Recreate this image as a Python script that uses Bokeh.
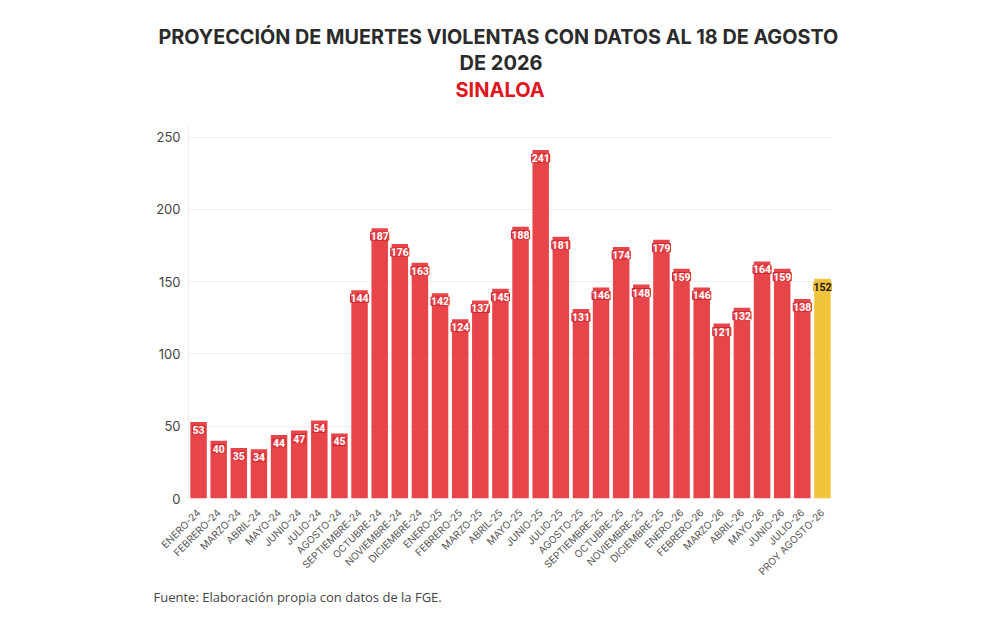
from bokeh.plotting import figure
from bokeh.models import ColumnDataSource, FactorRange, Range1d, LabelSet, SingleIntervalTicker, Title
from bokeh.embed import file_html
from bokeh.resources import INLINE
from bokeh.core.properties import value
import math

months = ["ENERO-24", "FEBRERO-24", "MARZO-24", "ABRIL-24", "MAYO-24", "JUNIO-24", "JULIO-24",
          "AGOSTO-24", "SEPTIEMBRE-24", "OCTUBRE-24", "NOVIEMBRE-24", "DICIEMBRE-24",
          "ENERO-25", "FEBRERO-25", "MARZO-25", "ABRIL-25", "MAYO-25", "JUNIO-25", "JULIO-25",
          "AGOSTO-25", "SEPTIEMBRE-25", "OCTUBRE-25", "NOVIEMBRE-25", "DICIEMBRE-25",
          "ENERO-26", "FEBRERO-26", "MARZO-26", "ABRIL-26", "MAYO-26", "JUNIO-26", "JULIO-26"]
deaths = [53, 40, 35, 34, 44, 47, 54, 45, 144, 187, 176, 163,
          142, 124, 137, 145, 188, 241, 181, 131, 146, 174, 148, 179,
          159, 146, 121, 132, 164, 159, 138]
proj_month = ["PROY AGOSTO-26"]
proj_value = [152]

title_line1 = "PROYECCIÓN DE MUERTES VIOLENTAS CON DATOS AL 18 DE AGOSTO"
title_line2 = "DE 2026"
subtitle = "SINALOA"
source_note = "Fuente: Elaboración propia con datos de la FGE."

RED = "#E8454A"
YELLOW = "#F2C43D"

cats = months + proj_month
p = figure(x_range=FactorRange(*cats, range_padding=0), y_range=Range1d(0, 258),
           width=982, height=630, output_backend="svg", toolbar_location=None,
           min_border_left=188, min_border_right=982 - 832, min_border_top=125, min_border_bottom=132)
p.outline_line_color = None

src_obs = ColumnDataSource(dict(x=months, top=deaths, lab=[str(v) for v in deaths]))
src_proj = ColumnDataSource(dict(x=proj_month, top=proj_value, lab=[str(v) for v in proj_value]))

p.vbar(x="x", top="top", width=0.82, source=src_obs, fill_color=RED, line_color=None)
p.vbar(x="x", top="top", width=0.82, source=src_proj, fill_color=YELLOW, line_color=None)

common = dict(x="x", y="top", text="lab", y_offset=-8, text_align="center", text_baseline="middle",
              text_font=value("Roboto"), text_font_style="bold", text_font_size="10.5px",
              border_line_width=1)
p.add_layout(LabelSet(source=src_obs, text_color="white", background_fill_color=RED,
                      border_line_color="#c9282e", **common))
p.add_layout(LabelSet(source=src_proj, text_color="#1a1a1a", background_fill_color=YELLOW,
                      border_line_color="#e0b030", **common))

p.yaxis.ticker = SingleIntervalTicker(interval=50)
p.yaxis.axis_line_color = "#eeeeee"
p.yaxis.major_tick_line_color = None
p.yaxis.minor_tick_line_color = None
p.yaxis.major_label_standoff = 2
p.yaxis.major_label_text_font = "Inter"
p.yaxis.major_label_text_font_size = "13px"
p.yaxis.major_label_text_color = "#444444"

p.xaxis.axis_line_color = None
p.xaxis.major_tick_line_color = None
p.xaxis.major_label_orientation = math.pi / 4
p.xaxis.major_label_standoff = 6
p.xaxis.major_label_text_font = "Inter"
p.xaxis.major_label_text_font_size = "10px"
p.xaxis.major_label_text_color = "#555555"

p.xgrid.grid_line_color = None
p.ygrid.grid_line_color = "#eeeeee"

# ---- titles (stacked outward from the plot frame)
title_style = dict(text_font="Inter", text_font_style="bold", text_font_size="20px", standoff=0)
p.add_layout(Title(text=" ", text_font_size="19px", standoff=0), "above")
p.add_layout(Title(text=subtitle, align="left", offset=455 - 188, text_color="#E0161E",
                   **{**title_style, "standoff": 2}), "above")
p.add_layout(Title(text=title_line2, align="left", offset=459 - 188, text_color="#2b2b2b",
                   **title_style), "above")
p.add_layout(Title(text=title_line1, align="left", offset=158 - 188, text_color="#2b2b2b",
                   **{**title_style, "text_font_size": "19.8px"}), "above")

# ---- footer
p.add_layout(Title(text=source_note, align="left", offset=153 - 188, text_font="Open Sans",
                   text_font_style="normal", text_font_size="13px", text_color="#444444",
                   standoff=2), "below")

open("out.html", "w").write(file_html(p, INLINE))
